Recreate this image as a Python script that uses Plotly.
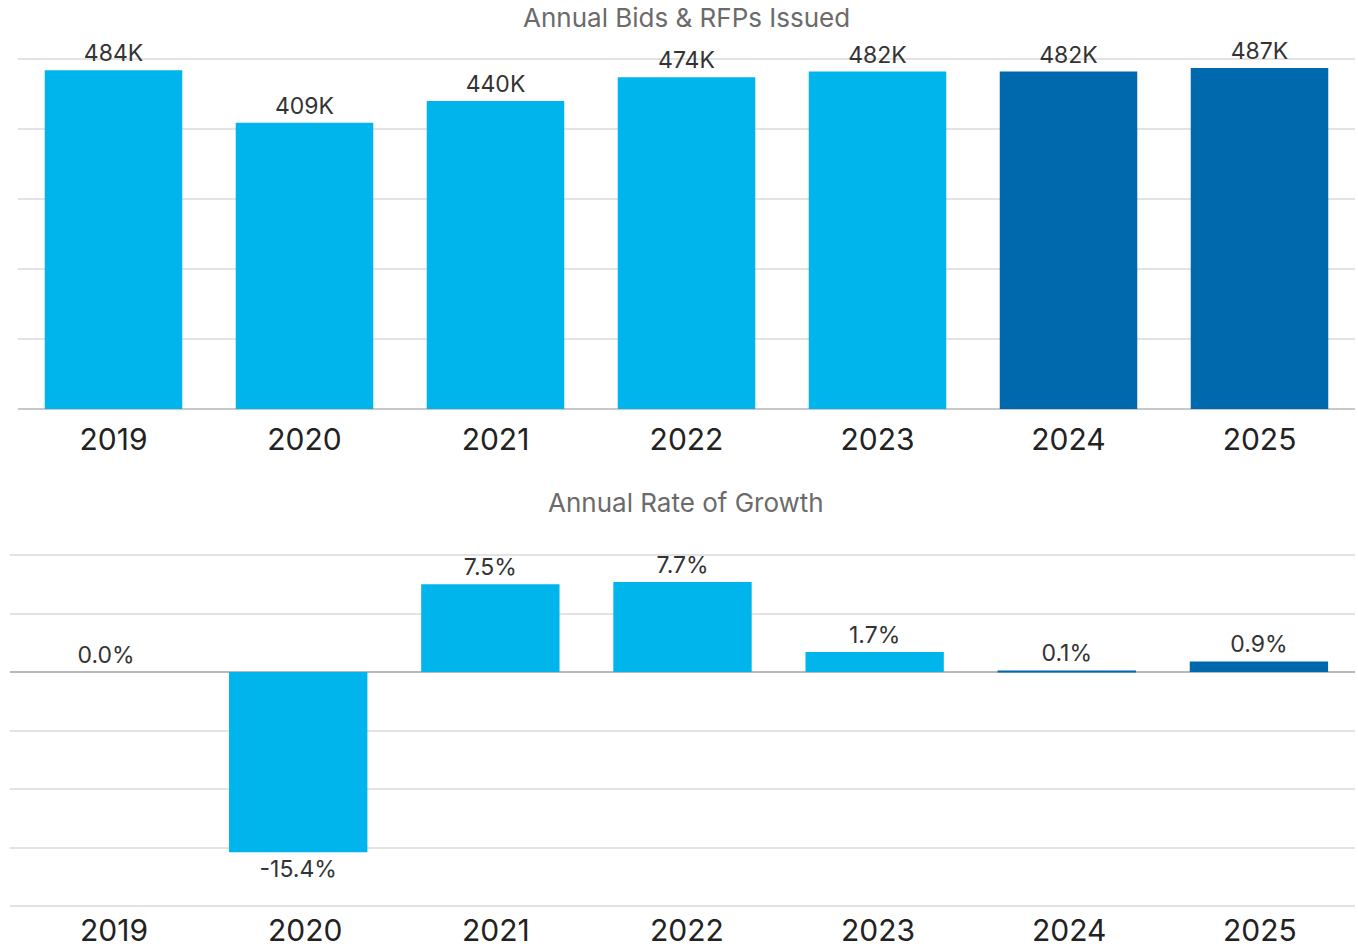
import plotly.graph_objects as go

years = ["2019", "2020", "2021", "2022", "2023", "2024", "2025"]
bids_k = [484, 409, 440, 474, 482, 482, 487]
bid_labels = ["484K", "409K", "440K", "474K", "482K", "482K", "487K"]
growth = [0.0, -15.4, 7.5, 7.7, 1.7, 0.1, 0.9]
growth_labels = ["0.0%", "-15.4%", "7.5%", "7.7%", "1.7%", "0.1%", "0.9%"]

LIGHT = "#00B5EC"
DARK = "#0068AC"
colors = [LIGHT, LIGHT, LIGHT, LIGHT, LIGHT, DARK, DARK]

FONT = "Inter"
W, H = 1358, 949

def fy(px):
    return 1 - px / H

# top: 0 at px 409, 500 at px 59 -> 0.7 px per unit
top_pad = 5
top_px_top = 409 - 0.7 * (500 + top_pad)
# bottom: 0 at px 672, 10 at 555, -20 at 906 -> 11.7 px per unit
bpad = 0.3
b_scale = (906 - 555) / 30.0
b_px_top = 555 - b_scale * bpad
b_px_bot = 906 + b_scale * bpad

fig = go.Figure()
fig.add_trace(go.Bar(
    x=years, y=bids_k, text=bid_labels, textposition="outside",
    marker=dict(color=colors, line=dict(width=0)),
    textfont=dict(family=FONT, size=23, color="#333333"),
    cliponaxis=False, xaxis="x", yaxis="y", showlegend=False,
    hoverinfo="skip",
))
fig.add_trace(go.Bar(
    x=years, y=growth, text=growth_labels, textposition="outside",
    marker=dict(color=colors, line=dict(width=0)),
    textfont=dict(family=FONT, size=23, color="#333333"),
    cliponaxis=False, xaxis="x2", yaxis="y2", showlegend=False,
    hoverinfo="skip",
))

grid = "#e3e3e3"
annotations = [
    dict(text="Annual Bids &amp; RFPs Issued", x=686 / W, y=fy(17),
         xref="paper", yref="paper", showarrow=False,
         xanchor="center", yanchor="middle",
         font=dict(family=FONT, size=26, color="#6b6b6b")),
    dict(text="Annual Rate of Growth", x=686 / W, y=fy(502),
         xref="paper", yref="paper", showarrow=False,
         xanchor="center", yanchor="middle",
         font=dict(family=FONT, size=26, color="#6b6b6b")),
]
# bottom category labels follow the top chart's category positions
for i, yr in enumerate(years):
    annotations.append(dict(
        text=yr, x=i, xref="x", y=0, yref="paper", showarrow=False,
        xanchor="center", yanchor="bottom", borderpad=0,
        font=dict(family=FONT, size=30, color="#222222")))

n = len(years)
fig.update_layout(
    width=W, height=H,
    margin=dict(l=0, r=0, t=0, b=0),
    paper_bgcolor="white", plot_bgcolor="white",
    bargap=0.28,
    font=dict(family=FONT),
    xaxis=dict(type="category", categoryorder="array", categoryarray=years,
               range=[-0.5, n - 0.5], autorange=False,
               domain=[18 / W, 1355 / W], anchor="y", showgrid=False,
               tickfont=dict(family=FONT, size=30, color="#222222"),
               showline=False, ticks="", ticklabelstandoff=10,
               automargin=False),
    yaxis=dict(domain=[fy(409), fy(top_px_top)], anchor="x",
               range=[0, 500 + top_pad], automargin=False,
               tick0=0, dtick=100, showticklabels=False, showgrid=True,
               gridcolor=grid, gridwidth=2, zeroline=True,
               zerolinecolor="#c8c8c8", zerolinewidth=2),
    xaxis2=dict(type="category", categoryorder="array", categoryarray=years,
                range=[-0.5, n - 0.5], autorange=False,
                domain=[10 / W, 1355 / W], anchor="y2", showgrid=False,
                showticklabels=False, showline=False, ticks="",
                automargin=False),
    yaxis2=dict(domain=[fy(b_px_bot), fy(b_px_top)], anchor="x2",
                range=[-20 - bpad, 10 + bpad], automargin=False,
                tick0=0, dtick=5, showticklabels=False, showgrid=True,
                gridcolor=grid, gridwidth=2, zeroline=True,
                zerolinecolor="#b8b8b8", zerolinewidth=1.5),
    annotations=annotations,
)

fig.write_html("out.html")
